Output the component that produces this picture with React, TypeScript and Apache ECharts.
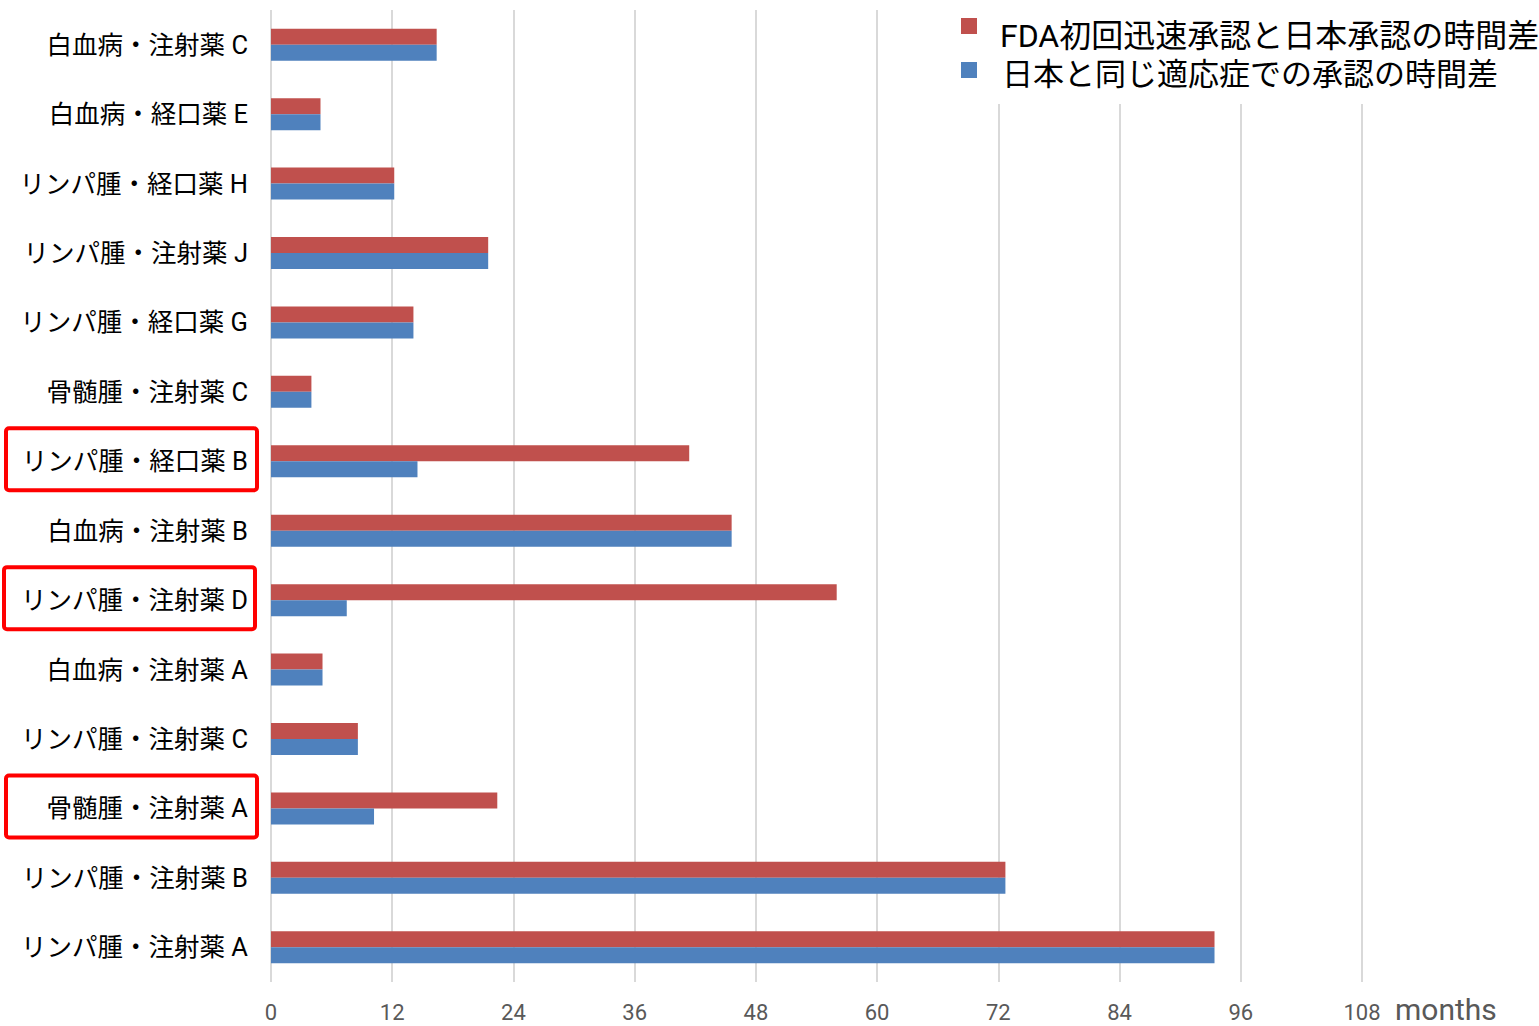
import React, { useEffect, useRef } from "react";
import * as echarts from "echarts";

const categories = [
  "白血病・注射薬 C",
  "白血病・経口薬 E",
  "リンパ腫・経口薬 H",
  "リンパ腫・注射薬 J",
  "リンパ腫・経口薬 G",
  "骨髄腫・注射薬 C",
  "リンパ腫・経口薬 B",
  "白血病・注射薬 B",
  "リンパ腫・注射薬 D",
  "白血病・注射薬 A",
  "リンパ腫・注射薬 C",
  "骨髄腫・注射薬 A",
  "リンパ腫・注射薬 B",
  "リンパ腫・注射薬 A",
];

const fdaGap = [16.4, 4.9, 12.2, 21.5, 14.1, 4.0, 41.4, 45.6, 56.0, 5.1, 8.6, 22.4, 72.7, 93.4];
const sameIndicationGap = [16.4, 4.9, 12.2, 21.5, 14.1, 4.0, 14.5, 45.6, 7.5, 5.1, 8.6, 10.2, 72.7, 93.4];

const seriesNames = ["FDA初回迅速承認と日本承認の時間差", "日本と同じ適応症での承認の時間差"];
const highlighted = ["リンパ腫・経口薬 B", "リンパ腫・注射薬 D", "骨髄腫・注射薬 A"];
const highlightShiftX = [0, -2, 0];

const RED = "#C0504D";
const BLUE = "#4F81BD";
const FONT = "Roboto, 'Noto Sans CJK JP', sans-serif";

export default function App() {
  const ref = useRef<HTMLDivElement>(null);
  useEffect(() => {
    if (!ref.current) return;
    const chart = echarts.init(ref.current, undefined, { renderer: "svg" });
    const gridTop = 10;
    const gridBottom = 44;
    const h = 1026;
    const band = (h - gridTop - gridBottom) / categories.length;
    const boxes = highlighted.map((c, k) => {
      const i = categories.indexOf(c);
      const cy = gridTop + band * (i + 0.5);
      return {
        type: "rect",
        shape: { x: 6 + highlightShiftX[k], y: cy - 33, width: 251, height: 62, r: 3 },
        style: { fill: "none", stroke: "#FF0000", lineWidth: 4 },
        z: 100,
      };
    });
    chart.setOption({
      animation: false,
      textStyle: { fontFamily: FONT },
      grid: { left: 271, right: 1539 - 1362, top: gridTop, bottom: gridBottom, containLabel: false },
      xAxis: {
        type: "value",
        min: 0,
        max: 108,
        interval: 12,
        axisLine: { show: false },
        axisTick: { show: false },
        axisLabel: { color: "#595959", fontSize: 22, margin: 19, fontFamily: FONT },
        splitLine: { show: true, lineStyle: { color: "#D9D9D9", width: 2 } },
      },
      yAxis: {
        type: "category",
        inverse: true,
        data: categories,
        axisLine: { show: false },
        axisTick: { show: false },
        axisLabel: { color: "#000000", fontSize: 25.5, margin: 23, fontFamily: FONT },
      },
      series: [
        {
          name: seriesNames[0],
          type: "bar",
          data: fdaGap,
          barWidth: 16,
          barGap: "0%",
          itemStyle: { color: RED },
        },
        {
          name: seriesNames[1],
          type: "bar",
          data: sameIndicationGap,
          barWidth: 16,
          barGap: "0%",
          itemStyle: { color: BLUE },
        },
      ],
      graphic: [
        {
          type: "rect",
          shape: { x: 945, y: 0, width: 594, height: 104 },
          style: { fill: "#FFFFFF" },
          z: 50,
        },
        {
          type: "rect",
          shape: { x: 961, y: 18, width: 16, height: 16 },
          style: { fill: RED },
          z: 60,
        },
        {
          type: "rect",
          shape: { x: 961, y: 62, width: 16, height: 16 },
          style: { fill: BLUE },
          z: 60,
        },
        {
          type: "text",
          x: 1000,
          y: 36,
          style: { text: seriesNames[0], font: `32px ${FONT}`, fill: "#000", verticalAlign: "middle", lineHeight: 34 },
          z: 60,
        },
        {
          type: "text",
          x: 1002,
          y: 74,
          style: { text: seriesNames[1], font: `31px ${FONT}`, fill: "#000", verticalAlign: "middle", lineHeight: 34 },
          z: 60,
        },
        {
          type: "text",
          x: 1395,
          y: 1009,
          style: { text: "months", font: `30px ${FONT}`, fill: "#595959", verticalAlign: "middle" },
          z: 60,
        },
        ...boxes,
      ],
    });
    return () => chart.dispose();
  }, []);
  return <div ref={ref} style={{ width: 1539, height: 1026, position: "absolute", left: 0, top: 0 }} />;
}
